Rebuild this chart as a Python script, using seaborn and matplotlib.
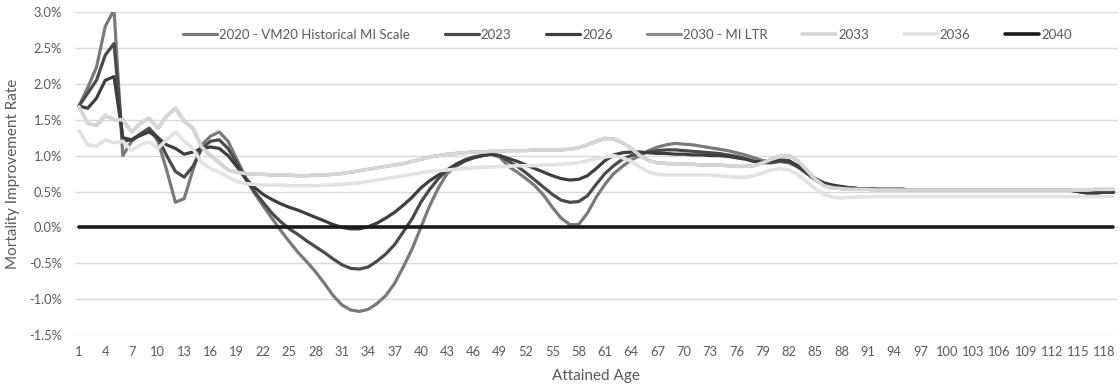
import matplotlib
matplotlib.use("Agg")
import matplotlib.pyplot as plt
import seaborn as sns
import pandas as pd
from matplotlib.lines import Line2D
from matplotlib.ticker import FuncFormatter

ages = list(range(1, 120))

s2020 = [1.69, 1.95, 2.23, 2.80, 3.03, 1.00, 1.20, 1.30, 1.38, 1.20,
         0.80, 0.35, 0.40, 0.80, 1.15, 1.27, 1.33, 1.20, 0.95, 0.70,
         0.48, 0.30, 0.13, -0.04, -0.20, -0.35, -0.48, -0.62, -0.78, -0.95,
         -1.08, -1.15, -1.17, -1.14, -1.06, -0.95, -0.78, -0.55, -0.30, 0.00,
         0.30, 0.55, 0.75, 0.85, 0.92, 0.97, 1.00, 1.02, 0.98, 0.85,
         0.77, 0.68, 0.58, 0.45, 0.28, 0.13, 0.04, 0.04, 0.20, 0.42,
         0.60, 0.75, 0.85, 0.94, 1.00, 1.07, 1.12, 1.15, 1.17, 1.16,
         1.15, 1.13, 1.11, 1.09, 1.07, 1.04, 1.01, 0.97, 0.93, 0.92,
         0.92, 0.90, 0.84, 0.75, 0.66, 0.60, 0.58, 0.56, 0.55, 0.54,
         0.54, 0.53, 0.53, 0.53, 0.53, 0.52, 0.52, 0.52, 0.52, 0.52,
         0.52, 0.52, 0.52, 0.52, 0.52, 0.52, 0.52, 0.52, 0.52, 0.52,
         0.52, 0.52, 0.52, 0.52, 0.50, 0.48, 0.48, 0.49, 0.49]

s2023 = [1.69, 1.87, 2.05, 2.40, 2.56, 1.20, 1.22, 1.30, 1.38, 1.25,
         1.00, 0.78, 0.70, 0.85, 1.10, 1.20, 1.22, 1.10, 0.90, 0.68,
         0.50, 0.35, 0.20, 0.08, -0.02, -0.10, -0.19, -0.27, -0.35, -0.44,
         -0.52, -0.57, -0.58, -0.55, -0.47, -0.37, -0.24, -0.06, 0.12, 0.35,
         0.53, 0.68, 0.80, 0.88, 0.94, 0.98, 1.00, 1.02, 1.00, 0.92,
         0.85, 0.76, 0.66, 0.56, 0.46, 0.38, 0.35, 0.36, 0.44, 0.60,
         0.75, 0.86, 0.95, 1.00, 1.03, 1.05, 1.07, 1.08, 1.08, 1.07,
         1.06, 1.05, 1.04, 1.03, 1.01, 0.99, 0.96, 0.92, 0.90, 0.90,
         0.92, 0.91, 0.85, 0.76, 0.67, 0.61, 0.58, 0.56, 0.55, 0.54,
         0.54, 0.53, 0.53, 0.53, 0.53, 0.52, 0.52, 0.52, 0.52, 0.52,
         0.52, 0.52, 0.52, 0.52, 0.52, 0.52, 0.52, 0.52, 0.52, 0.52,
         0.52, 0.52, 0.52, 0.52, 0.50, 0.48, 0.48, 0.49, 0.49]

s2026 = [1.69, 1.66, 1.80, 2.05, 2.10, 1.25, 1.22, 1.28, 1.33, 1.25,
         1.15, 1.10, 1.02, 1.05, 1.10, 1.12, 1.10, 1.00, 0.85, 0.68,
         0.56, 0.46, 0.39, 0.33, 0.28, 0.24, 0.19, 0.14, 0.09, 0.04,
         0.00, -0.02, -0.02, 0.01, 0.06, 0.13, 0.21, 0.31, 0.42, 0.55,
         0.65, 0.73, 0.80, 0.87, 0.93, 0.97, 1.00, 1.02, 1.00, 0.96,
         0.92, 0.87, 0.82, 0.77, 0.72, 0.68, 0.66, 0.67, 0.72, 0.82,
         0.93, 1.01, 1.04, 1.05, 1.05, 1.04, 1.03, 1.03, 1.02, 1.02,
         1.01, 1.01, 1.00, 1.00, 0.99, 0.97, 0.95, 0.92, 0.91, 0.92,
         0.94, 0.93, 0.86, 0.77, 0.68, 0.62, 0.59, 0.57, 0.55, 0.54,
         0.54, 0.53, 0.53, 0.53, 0.53, 0.52, 0.52, 0.52, 0.52, 0.52,
         0.52, 0.52, 0.52, 0.52, 0.52, 0.52, 0.52, 0.52, 0.52, 0.52,
         0.52, 0.52, 0.52, 0.52, 0.50, 0.48, 0.48, 0.49, 0.49]

s2033 = [1.68, 1.45, 1.42, 1.56, 1.50, 1.50, 1.33, 1.45, 1.52, 1.38,
         1.55, 1.66, 1.48, 1.38, 1.12, 1.00, 0.90, 0.80, 0.77, 0.75,
         0.74, 0.74, 0.73, 0.73, 0.73, 0.72, 0.72, 0.73, 0.73, 0.74,
         0.75, 0.77, 0.79, 0.81, 0.83, 0.85, 0.87, 0.89, 0.92, 0.95,
         0.98, 1.00, 1.02, 1.03, 1.04, 1.05, 1.05, 1.06, 1.06, 1.07,
         1.07, 1.07, 1.08, 1.08, 1.08, 1.08, 1.09, 1.11, 1.15, 1.20,
         1.24, 1.23, 1.18, 1.10, 1.00, 0.93, 0.90, 0.89, 0.88, 0.88,
         0.88, 0.87, 0.87, 0.87, 0.86, 0.85, 0.85, 0.86, 0.90, 0.95,
         0.99, 1.00, 0.93, 0.80, 0.67, 0.58, 0.55, 0.54, 0.53, 0.53,
         0.53, 0.52, 0.52, 0.52, 0.52, 0.52, 0.52, 0.52, 0.52, 0.52,
         0.52, 0.52, 0.52, 0.52, 0.52, 0.52, 0.52, 0.52, 0.52, 0.52,
         0.52, 0.52, 0.52, 0.52, 0.52, 0.52, 0.53, 0.53, 0.53]

# 2030 - MI LTR is not visible separately in the reference; it lies under 2033
s2030 = list(s2033)

s2036 = [1.35, 1.15, 1.13, 1.22, 1.18, 1.20, 1.07, 1.15, 1.19, 1.10,
         1.22, 1.33, 1.20, 1.10, 0.90, 0.82, 0.77, 0.70, 0.64, 0.61,
         0.60, 0.59, 0.59, 0.59, 0.58, 0.58, 0.58, 0.58, 0.59, 0.59,
         0.60, 0.61, 0.62, 0.64, 0.66, 0.68, 0.70, 0.72, 0.74, 0.76,
         0.78, 0.79, 0.80, 0.81, 0.82, 0.83, 0.84, 0.84, 0.85, 0.85,
         0.86, 0.86, 0.86, 0.87, 0.87, 0.88, 0.89, 0.90, 0.93, 0.96,
         0.98, 1.00, 0.97, 0.92, 0.84, 0.77, 0.74, 0.73, 0.73, 0.73,
         0.73, 0.73, 0.73, 0.72, 0.71, 0.70, 0.70, 0.72, 0.76, 0.80,
         0.82, 0.80, 0.74, 0.64, 0.54, 0.46, 0.42, 0.41, 0.42, 0.42,
         0.43, 0.43, 0.43, 0.43, 0.43, 0.43, 0.43, 0.43, 0.43, 0.43,
         0.43, 0.43, 0.43, 0.43, 0.43, 0.43, 0.43, 0.43, 0.43, 0.43,
         0.43, 0.43, 0.43, 0.43, 0.43, 0.43, 0.43, 0.43, 0.43]

s2040 = [0.00] * 119

series_names = ["2020 - VM20 Historical MI Scale", "2023", "2026", "2030 - MI LTR",
                "2033", "2036", "2040"]
series_values = [s2020, s2023, s2026, s2030, s2033, s2036, s2040]
colors = ["#7a7a7a", "#4a4a4a", "#3e3e3e", "#8a8a8a", "#d6d6d6", "#e2e2e2", "#1a1a1a"]
widths = [2.3, 2.3, 2.3, 2.3, 2.6, 2.6, 2.6]

rows = []
for name, vals in zip(series_names, series_values):
    for a, v in zip(ages, vals):
        rows.append({"Age": a, "Rate": v, "Series": name})
df = pd.DataFrame(rows)

sns.set_theme(style="white")
plt.rcParams["font.family"] = ["Lato", "DejaVu Sans"]
text_color = "#595959"

fig = plt.figure(figsize=(11.2, 3.87), dpi=100)
ax = fig.add_axes([0.0666, 0.134, 0.9314, 0.835])

for name, col, lw in zip(series_names, colors, widths):
    sub = df[df["Series"] == name]
    sns.lineplot(data=sub, x="Age", y="Rate", color=col, linewidth=lw, ax=ax,
                 legend=False, solid_capstyle="round", solid_joinstyle="round")

ax.set_xlim(0.5, 119.5)
ax.set_ylim(-1.5, 3.0)
ax.set_yticks([-1.5, -1.0, -0.5, 0.0, 0.5, 1.0, 1.5, 2.0, 2.5, 3.0])
ax.yaxis.set_major_formatter(FuncFormatter(lambda v, p: f"{v:.1f}%"))
ax.set_xticks(list(range(1, 120, 3)))
ax.grid(axis="y", color="#d9d9d9", linewidth=1.0)
ax.grid(axis="x", visible=False)
ax.set_axisbelow(True)
for sp in ax.spines.values():
    sp.set_visible(False)
ax.tick_params(axis="both", length=0, labelsize=9.3, labelcolor=text_color)
ax.tick_params(axis="x", pad=8)
ax.tick_params(axis="y", pad=9)

ax.set_xlabel("Attained Age", fontsize=11, color=text_color)
ax.set_ylabel("Mortality Improvement Rate", fontsize=11, color=text_color)
ax.xaxis.set_label_coords(0.5, -0.106)
ax.yaxis.set_label_coords(-0.052, 0.5)

handles = [Line2D([0], [0], color=c, linewidth=lw) for c, lw in zip(colors, widths)]
ax.legend(handles, series_names, loc="center", bbox_to_anchor=(0.53, 0.929), ncol=7,
          frameon=False, fontsize=9.5, handlelength=2.6, handletextpad=0.15,
          columnspacing=2.6, labelcolor=text_color)

fig.savefig("out.png", dpi=100)
